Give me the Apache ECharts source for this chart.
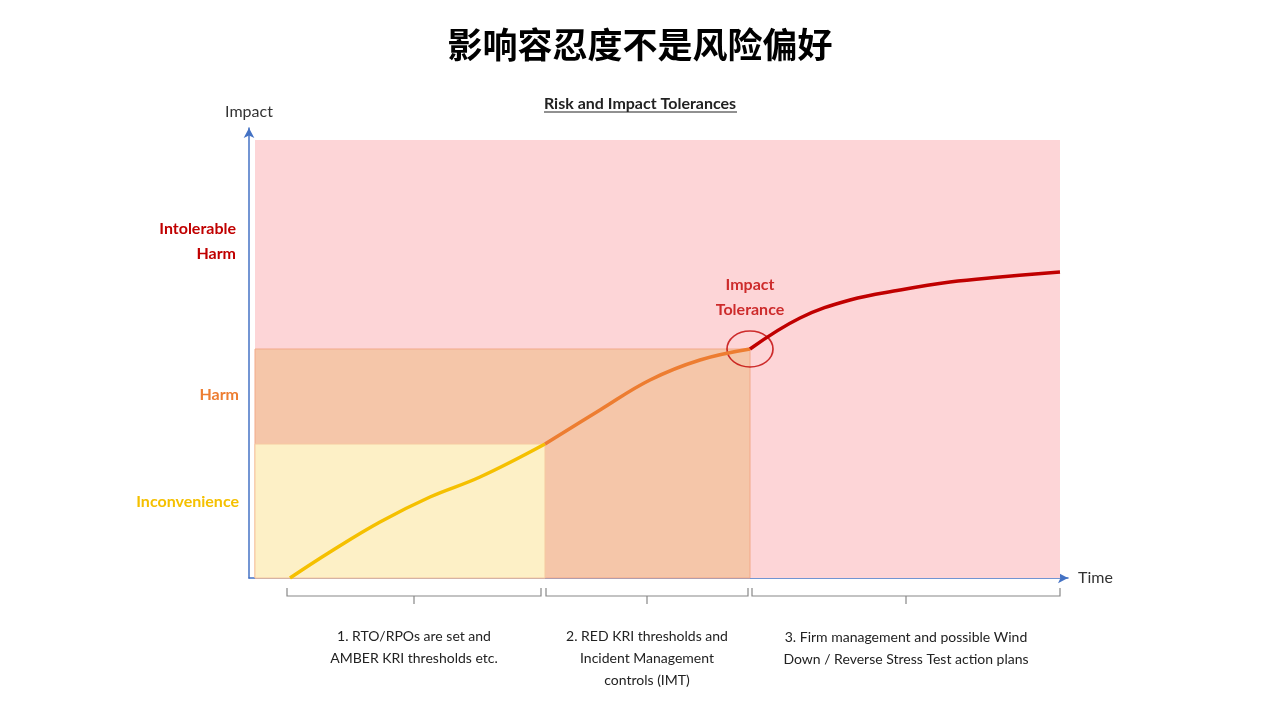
<!DOCTYPE html>
<html><head><meta charset="utf-8">
<script src="https://cdn.jsdelivr.net/npm/echarts@6/dist/echarts.min.js"></script>
<style>html,body{margin:0;background:#fff}#c{width:1280px;height:720px}</style>
</head><body><div id="c"></div>
<script>
// Schematic units: x = time, y = impact
const yellowCurve = [[41,0],[81,26],[131,56],[181,81],[231,101],[296,134]];
const orangeCurve = [[296,134],[351,168],[401,198],[451,218],[501,229]];
const redCurve = [[501,229],[551,260],[601,278],[651,288],[701,296],[751,301],[811,306]];
const zoneIntolerable = [6, 811, 0, 438];
const zoneHarm = [6, 501, 0, 229];
const zoneInconvenience = [6, 296, 0, 134];
const tolerancePoint = [501, 229];
const phaseLabels = ['1. RTO/RPOs are set and\nAMBER KRI thresholds etc.','2. RED KRI thresholds and\nIncident Management\ncontrols (IMT)','3. Firm management and possible Wind\nDown / Reverse Stress Test action plans'];
const impactLabels = ['Intolerable\nHarm','Harm','Inconvenience'];

const chart = echarts.init(document.getElementById('c'));
const F = 'Lato, "Noto Sans", sans-serif';
function area(z){return [{coord:[z[0],z[2]]},{coord:[z[1],z[3]]}];}
function brace(x1,x2){const m=(x1+x2)/2;return {type:'polyline',shape:{points:[[x1,588],[x1,596],[m,596],[m,604],[m,596],[x2,596],[x2,588]]},style:{stroke:'#888',lineWidth:1.2,fill:null}};}
const curve = {type:'line',smooth:0.4,symbol:'none'};
chart.setOption({
  animation:false,
  title:[{text:'影响容忍度不是风险偏好',left:'center',top:22,textStyle:{fontFamily:'"Noto Sans CJK SC"',fontSize:35,fontWeight:'bold',color:'#000'}},
         {text:'Risk and Impact Tolerances',left:'center',top:91,textStyle:{fontFamily:F,fontSize:16,fontWeight:'bold',color:'#222'}}],
  grid:{left:249,right:212,top:128,bottom:142},
  xAxis:{type:'value',min:0,max:819,axisLine:{lineStyle:{color:'#4472c4',width:1.5},symbol:['none','arrow'],symbolSize:[8,10]},axisTick:{show:false},axisLabel:{show:false},splitLine:{show:false},
    name:'Time',nameGap:10,nameTextStyle:{fontFamily:F,fontSize:16,color:'#333'}},
  yAxis:{type:'value',min:0,max:450,axisLine:{show:true,lineStyle:{color:'#4472c4',width:1.5},symbol:['none','arrow'],symbolSize:[8,10]},axisTick:{show:false},axisLabel:{show:false},splitLine:{show:false},
    name:'Impact',nameGap:8,nameTextStyle:{fontFamily:F,fontSize:16,color:'#333',align:'center'}},
  series:[
    {type:'line',data:[],silent:true,markArea:{silent:true,itemStyle:{color:'#fdd5d7'},data:[area(zoneIntolerable)]}},
    {type:'line',data:[],silent:true,markArea:{silent:true,itemStyle:{color:'#f5c6a9',borderColor:'#f2a989',borderWidth:1},data:[area(zoneHarm)]}},
    {type:'line',data:[],silent:true,markArea:{silent:true,itemStyle:{color:'#fdf0c6',borderColor:'#f6c9a0',borderWidth:1},data:[area(zoneInconvenience)]}},
    Object.assign({data:yellowCurve,lineStyle:{color:'#f5c000',width:3.5}},curve),
    Object.assign({data:orangeCurve,lineStyle:{color:'#ed7d31',width:3.5}},curve),
    Object.assign({data:redCurve,lineStyle:{color:'#c00000',width:3.5}},curve),
    {type:'scatter',data:[tolerancePoint],symbol:'circle',symbolSize:[46,36],itemStyle:{color:'rgba(0,0,0,0)',borderColor:'#c00000',borderWidth:1.5},
      label:{show:true,position:'top',distance:8,formatter:'Impact\nTolerance',fontFamily:F,fontSize:16,fontWeight:'bold',color:'#c00000',lineHeight:25}}
  ],
  graphic:[
    {type:'line',shape:{x1:544,y1:112,x2:737,y2:112},style:{stroke:'#222',lineWidth:1}},
    {type:'text',x:236,y:216,style:{text:impactLabels[0],fontFamily:F,fontSize:16,fontWeight:'bold',fill:'#c00000',align:'right',lineHeight:25}},
    {type:'text',x:239,y:387,style:{text:impactLabels[1],fontFamily:F,fontSize:16,fontWeight:'bold',fill:'#ed7d31',align:'right'}},
    {type:'text',x:239,y:494,style:{text:impactLabels[2],fontFamily:F,fontSize:16,fontWeight:'bold',fill:'#f5c000',align:'right'}},
    {type:'text',left:277,top:550,style:{text:'T0',fontFamily:F,fontSize:16,fontWeight:'bold',fill:'#000'}},
    brace(287,541),brace(546,748),brace(752,1060),
    {type:'text',x:414,y:625,style:{text:phaseLabels[0],fontFamily:F,fontSize:14,fill:'#222',align:'center',lineHeight:22}},
    {type:'text',x:647,y:625,style:{text:phaseLabels[1],fontFamily:F,fontSize:14,fill:'#222',align:'center',lineHeight:22}},
    {type:'text',x:906,y:626,style:{text:phaseLabels[2],fontFamily:F,fontSize:14,fill:'#222',align:'center',lineHeight:22}}
  ]
});
</script></body></html>
